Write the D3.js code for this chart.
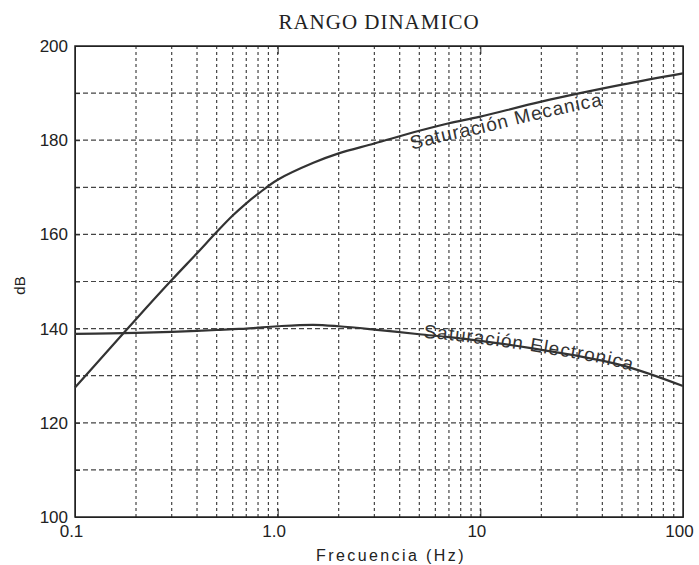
<!DOCTYPE html>
<html>
<head>
<meta charset="utf-8">
<script src="https://cdn.jsdelivr.net/npm/d3@7"></script>
<style>
  body { margin: 0; background: #fff; }
  .chart svg { display: block; }
  .axis text { font-family: "Liberation Sans", Arial, sans-serif; font-size: 17px; fill: #222; }
  .axis path, .axis line { stroke: #222; }
</style>
</head>
<body>
<div class="chart"></div>
<script>
// frecuencia (Hz) en que se leyeron las curvas
var freqs = [0.1, 0.15, 0.2, 0.3, 0.4, 0.5, 0.6, 0.7, 0.8, 1, 1.5, 2, 3, 5, 7, 10, 20, 50, 100];
// saturacion mecanica (dB)
var mecanica = [127.5, 136, 142, 150.3, 156, 160.5, 164, 166.6, 168.6, 171.6, 175.2, 177.2, 179.3, 182, 183.6, 185, 188.2, 191.8, 194.2];
// saturacion electronica (dB)
var electronica = [138.9, 139, 139.1, 139.3, 139.5, 139.7, 139.9, 140, 140.2, 140.5, 140.8, 140.5, 139.8, 138.8, 138.2, 137.4, 135.5, 132.2, 127.8];

var xTickValues = [0.1, 1, 10, 100];
var xTickLabels = ["0.1", "1.0", "10", "100"];
var yTickValues = [100, 110, 120, 130, 140, 150, 160, 170, 180, 190, 200];
var yTickLabels = ["100", "", "120", "", "140", "", "160", "", "180", "", "200"];

var RangoDinamico = (function() {
  var width = 699, height = 565;
  var margin = { top: 46, right: 16, bottom: 48, left: 75 };

  function drawChart() {
    var svg = d3.select(".chart").append("svg")
      .attr("width", width)
      .attr("height", height);

    var x = d3.scaleLog().domain([0.1, 100]).range([margin.left, width - margin.right]);
    var y = d3.scaleLinear().domain([100, 200]).range([height - margin.bottom, margin.top]);

    // rejilla
    var gx = x.ticks().filter(function(d) { return d > 0.1 && d < 100; });
    var gy = yTickValues.filter(function(d) { return d > 100 && d < 200; });

    svg.append("g").selectAll("line")
      .data(gx)
      .enter().append("line")
        .attr("x1", d => x(d)).attr("x2", d => x(d))
        .attr("y1", y(200)).attr("y2", y(100))
        .attr("stroke", "#444")
        .attr("stroke-width", 1.2)
        .attr("stroke-dasharray", "3,3");

    svg.append("g").selectAll("line")
      .data(gy)
      .enter().append("line")
        .attr("x1", x(0.1)).attr("x2", x(100))
        .attr("y1", d => y(d)).attr("y2", d => y(d))
        .attr("stroke", "#444")
        .attr("stroke-width", 1.2)
        .attr("stroke-dasharray", "5,3");

    // ejes
    svg.append("g")
      .attr("class", "axis")
      .attr("transform", "translate(" + margin.left + ",0)")
      .call(d3.axisLeft(y).tickValues(yTickValues).tickSizeInner(-5).tickSizeOuter(0).tickPadding(7)
        .tickFormat(function(d, i) { return yTickLabels[i]; }));

    svg.append("g")
      .attr("class", "axis")
      .attr("transform", "translate(" + (width - margin.right) + ",0)")
      .call(d3.axisRight(y).tickValues(yTickValues).tickSizeInner(-5).tickSizeOuter(0).tickFormat(""));

    var xAxis = svg.append("g")
      .attr("class", "axis")
      .attr("transform", "translate(0," + (height - margin.bottom) + ")")
      .call(d3.axisBottom(x).tickValues(xTickValues).tickSizeInner(-8).tickSizeOuter(0).tickPadding(8)
        .tickFormat(function(d, i) { return xTickLabels[i]; }));
    xAxis.selectAll("text").attr("dx", "-4px");

    svg.append("g")
      .attr("class", "axis")
      .attr("transform", "translate(0," + margin.top + ")")
      .call(d3.axisTop(x).tickValues(xTickValues).tickSizeInner(-8).tickSizeOuter(0).tickFormat(""));

    svg.append("rect")
      .attr("x", x(0.1)).attr("y", y(200))
      .attr("width", x(100) - x(0.1)).attr("height", y(100) - y(200))
      .attr("fill", "none")
      .attr("stroke", "#222")
      .attr("stroke-width", 1.5);

    // curvas
    var series = [
      { id: "mec", name: "Saturación Mecanica", values: mecanica, labelX: 412, shift: 17 },
      { id: "ele", name: "Saturación Electronica", values: electronica, labelX: 423, shift: 3 }
    ];

    series.forEach(function(s) {
      var pts = freqs.map(function(f, i) { return [f, s.values[i]]; });

      svg.append("path")
        .datum(pts)
        .attr("fill", "none")
        .attr("stroke", "#333")
        .attr("stroke-width", 2.2)
        .attr("d", d3.line()
          .x(d => x(d[0]))
          .y(d => y(d[1]))
          .curve(d3.curveCatmullRom.alpha(0.5)));

      var guide = svg.append("path")
        .datum(pts)
        .attr("id", "guia-" + s.id)
        .attr("fill", "none")
        .attr("stroke", "none")
        .attr("d", d3.line()
          .x(d => x(d[0]))
          .y(d => y(d[1]) + s.shift)
          .curve(d3.curveCatmullRom.alpha(0.5)));

      svg.append("text")
        .attr("font-family", "'Liberation Sans', Arial, sans-serif")
        .attr("font-size", "19px")
        .attr("letter-spacing", "1px")
        .attr("fill", "#333")
        .append("textPath")
          .attr("href", "#guia-" + s.id)
          .attr("startOffset", lengthAtX(guide.node(), s.labelX))
          .text(s.name);
    });

    // titulos
    svg.append("text")
      .attr("x", (x(0.1) + x(100)) / 2)
      .attr("y", 29)
      .attr("text-anchor", "middle")
      .attr("font-family", "'Liberation Serif', 'Times New Roman', serif")
      .attr("font-size", "21px")
      .attr("letter-spacing", "1px")
      .attr("fill", "#222")
      .text("RANGO DINAMICO");

    svg.append("text")
      .attr("x", (x(0.1) + x(100)) / 2 + 12)
      .attr("y", 561)
      .attr("text-anchor", "middle")
      .attr("font-family", "'Liberation Sans', Arial, sans-serif")
      .attr("font-size", "16px")
      .attr("letter-spacing", "2.4px")
      .attr("fill", "#222")
      .text("Frecuencia (Hz)");

    svg.append("text")
      .attr("transform", "translate(25," + (y(150) + 4) + ") rotate(-90)")
      .attr("text-anchor", "middle")
      .attr("font-family", "'Liberation Sans', Arial, sans-serif")
      .attr("font-size", "15px")
      .attr("fill", "#222")
      .text("dB");
  }

  function lengthAtX(node, px) {
    var lo = 0, hi = node.getTotalLength();
    for (var k = 0; k < 40; k++) {
      var mid = (lo + hi) / 2;
      if (node.getPointAtLength(mid).x < px) lo = mid; else hi = mid;
    }
    return lo;
  }

  return {
    draw: function() {
      return drawChart();
    }
  };
})();

RangoDinamico.draw();
</script>
</body>
</html>
